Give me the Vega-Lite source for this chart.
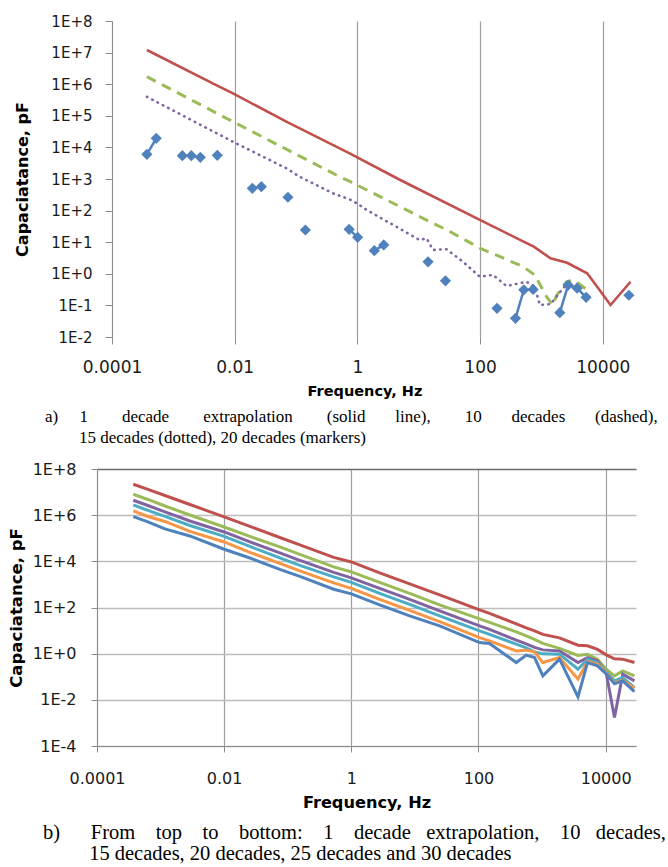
{
  "$schema": "https://vega.github.io/schema/vega-lite/v6.json",
  "background": "white",
  "padding": {"left": 8, "top": 14, "right": 0, "bottom": 0},
  "spacing": 15,
  "config": {
    "view": {"stroke": null},
    "axis": {
      "domainColor": "#8c8c8c",
      "tickColor": "#8c8c8c",
      "labelColor": "#1a1a1a",
      "titleColor": "#000000",
      "labelFont": "DejaVu Sans",
      "titleFont": "DejaVu Sans",
      "titleFontWeight": "bold",
      "labelFlush": false,
      "labelOverlap": false
    }
  },
  "datasets": {
    "panelA": [
      {"s": "r", "f": 3.7e-4, "c": 1.21e7},
      {"s": "r", "f": 5.0e-3, "c": 9.4e5},
      {"s": "r", "f": 9.2e-3, "c": 5.2e5},
      {"s": "r", "f": 0.0695, "c": 6.5e4},
      {"s": "r", "f": 0.748, "c": 6500},
      {"s": "r", "f": 5.0, "c": 930},
      {"s": "r", "f": 101, "c": 50},
      {"s": "r", "f": 456, "c": 11.7},
      {"s": "r", "f": 751, "c": 7.2},
      {"s": "r", "f": 1407, "c": 3.1},
      {"s": "r", "f": 2625, "c": 2.24},
      {"s": "r", "f": 5570, "c": 1.04},
      {"s": "r", "f": 8110, "c": 0.39},
      {"s": "r", "f": 13400, "c": 0.103},
      {"s": "r", "f": 28400, "c": 0.56},
      {"s": "g", "f": 3.7e-4, "c": 1.73e6},
      {"s": "g", "f": 9.4e-3, "c": 6.5e4},
      {"s": "g", "f": 0.514, "c": 1180},
      {"s": "g", "f": 0.77, "c": 822},
      {"s": "g", "f": 17.1, "c": 39.6},
      {"s": "g", "f": 29, "c": 24.3},
      {"s": "g", "f": 101, "c": 6.4},
      {"s": "g", "f": 185, "c": 3.9},
      {"s": "g", "f": 503, "c": 1.68},
      {"s": "g", "f": 780, "c": 0.92},
      {"s": "g", "f": 1211, "c": 0.19},
      {"s": "g", "f": 1535, "c": 0.103},
      {"s": "g", "f": 1783, "c": 0.21},
      {"s": "g", "f": 2570, "c": 0.56},
      {"s": "g", "f": 3380, "c": 0.64},
      {"s": "g", "f": 5570, "c": 0.31},
      {"s": "p", "f": 3.7e-4, "c": 4.0e5},
      {"s": "p", "f": 9.4e-3, "c": 1.5e4},
      {"s": "p", "f": 0.0695, "c": 2180},
      {"s": "p", "f": 0.1146, "c": 1180},
      {"s": "p", "f": 0.4, "c": 352},
      {"s": "p", "f": 0.748, "c": 228},
      {"s": "p", "f": 0.98, "c": 170},
      {"s": "p", "f": 1.43, "c": 104},
      {"s": "p", "f": 10.4, "c": 11.7},
      {"s": "p", "f": 13.4, "c": 13.3},
      {"s": "p", "f": 17.1, "c": 5.7},
      {"s": "p", "f": 28.3, "c": 6.0},
      {"s": "p", "f": 52.8, "c": 2.4},
      {"s": "p", "f": 99, "c": 0.81},
      {"s": "p", "f": 163, "c": 0.92},
      {"s": "p", "f": 270, "c": 0.41},
      {"s": "p", "f": 571, "c": 0.56},
      {"s": "p", "f": 780, "c": 0.39},
      {"s": "p", "f": 942, "c": 0.103},
      {"s": "p", "f": 1422, "c": 0.11},
      {"s": "p", "f": 2150, "c": 0.31},
      {"s": "p", "f": 2700, "c": 0.51},
      {"s": "b", "seg": 1, "f": 3.7e-4, "c": 6050},
      {"s": "b", "seg": 1, "f": 5.26e-4, "c": 19400},
      {"s": "b", "seg": 2, "f": 1.40e-3, "c": 5460},
      {"s": "b", "seg": 3, "f": 1.96e-3, "c": 5460},
      {"s": "b", "seg": 4, "f": 2.75e-3, "c": 4860},
      {"s": "b", "seg": 5, "f": 5.2e-3, "c": 5620},
      {"s": "b", "seg": 6, "f": 0.0194, "c": 508},
      {"s": "b", "seg": 7, "f": 0.0272, "c": 570},
      {"s": "b", "seg": 8, "f": 0.0738, "c": 264},
      {"s": "b", "seg": 9, "f": 0.142, "c": 24.3},
      {"s": "b", "seg": 10, "f": 0.734, "c": 25.6},
      {"s": "b", "seg": 10, "f": 1.01, "c": 14.3},
      {"s": "b", "seg": 11, "f": 1.89, "c": 5.4},
      {"s": "b", "seg": 11, "f": 2.69, "c": 8.2},
      {"s": "b", "seg": 12, "f": 14.2, "c": 2.4},
      {"s": "b", "seg": 13, "f": 27.3, "c": 0.6},
      {"s": "b", "seg": 14, "f": 189, "c": 0.081},
      {"s": "b", "seg": 15, "f": 378, "c": 0.039},
      {"s": "b", "seg": 15, "f": 516, "c": 0.31},
      {"s": "b", "seg": 15, "f": 733, "c": 0.32},
      {"s": "b", "seg": 16, "f": 1995, "c": 0.059},
      {"s": "b", "seg": 16, "f": 2730, "c": 0.44},
      {"s": "b", "seg": 16, "f": 3820, "c": 0.35},
      {"s": "b", "seg": 16, "f": 5360, "c": 0.18},
      {"s": "b", "seg": 17, "f": 26700, "c": 0.21}
    ],
    "gridA": [
      {"c": 0.01}, {"c": 0.1}, {"c": 1}, {"c": 10}, {"c": 100}, {"c": 1000},
      {"c": 10000}, {"c": 100000}, {"c": 1000000}, {"c": 10000000}, {"c": 100000000}
    ],
    "panelB": [
      {"s": "1 decade", "f": 3.72e-4, "c": 2.18e7},
      {"s": "1 decade", "f": 6.32e-4, "c": 1.30e7},
      {"s": "1 decade", "f": 1.17e-3, "c": 7.13e6},
      {"s": "1 decade", "f": 2.89e-3, "c": 2.90e6},
      {"s": "1 decade", "f": 0.01, "c": 8.36e5},
      {"s": "1 decade", "f": 0.0254, "c": 3.24e5},
      {"s": "1 decade", "f": 0.075, "c": 1.08e5},
      {"s": "1 decade", "f": 0.155, "c": 5.13e4},
      {"s": "1 decade", "f": 0.528, "c": 1.48e4},
      {"s": "1 decade", "f": 1.0, "c": 9420},
      {"s": "1 decade", "f": 2.79, "c": 3150},
      {"s": "1 decade", "f": 8.27, "c": 1050},
      {"s": "1 decade", "f": 24.5, "c": 351},
      {"s": "1 decade", "f": 104, "c": 78.7},
      {"s": "1 decade", "f": 149, "c": 55.6},
      {"s": "1 decade", "f": 393, "c": 19.5},
      {"s": "1 decade", "f": 564, "c": 13.1},
      {"s": "1 decade", "f": 761, "c": 9.7},
      {"s": "1 decade", "f": 1028, "c": 6.84},
      {"s": "1 decade", "f": 1880, "c": 4.83},
      {"s": "1 decade", "f": 3670, "c": 2.33},
      {"s": "1 decade", "f": 5180, "c": 2.18},
      {"s": "1 decade", "f": 7430, "c": 1.53},
      {"s": "1 decade", "f": 10190, "c": 0.887},
      {"s": "1 decade", "f": 13750, "c": 0.596},
      {"s": "1 decade", "f": 18570, "c": 0.578},
      {"s": "1 decade", "f": 28330, "c": 0.412},
      {"s": "10 decades", "f": 3.72e-4, "c": 8.03e6},
      {"s": "10 decades", "f": 6.32e-4, "c": 4.79e6},
      {"s": "10 decades", "f": 1.17e-3, "c": 2.50e6},
      {"s": "10 decades", "f": 2.89e-3, "c": 1.02e6},
      {"s": "10 decades", "f": 0.01, "c": 3.08e5},
      {"s": "10 decades", "f": 0.0254, "c": 1.20e5},
      {"s": "10 decades", "f": 0.075, "c": 4.20e4},
      {"s": "10 decades", "f": 0.155, "c": 1.99e4},
      {"s": "10 decades", "f": 0.528, "c": 5720},
      {"s": "10 decades", "f": 1.0, "c": 3480},
      {"s": "10 decades", "f": 2.79, "c": 1220},
      {"s": "10 decades", "f": 8.27, "c": 407},
      {"s": "10 decades", "f": 24.5, "c": 130},
      {"s": "10 decades", "f": 104, "c": 32.1},
      {"s": "10 decades", "f": 149, "c": 22.6},
      {"s": "10 decades", "f": 393, "c": 8.79},
      {"s": "10 decades", "f": 564, "c": 5.90},
      {"s": "10 decades", "f": 761, "c": 4.16},
      {"s": "10 decades", "f": 1028, "c": 2.79},
      {"s": "10 decades", "f": 1880, "c": 1.69},
      {"s": "10 decades", "f": 3670, "c": 0.844},
      {"s": "10 decades", "f": 5180, "c": 0.95},
      {"s": "10 decades", "f": 7430, "c": 0.578},
      {"s": "10 decades", "f": 10190, "c": 0.213},
      {"s": "10 decades", "f": 13750, "c": 0.109},
      {"s": "10 decades", "f": 18570, "c": 0.180},
      {"s": "10 decades", "f": 28330, "c": 0.109},
      {"s": "15 decades", "f": 3.72e-4, "c": 4.42e6},
      {"s": "15 decades", "f": 6.32e-4, "c": 2.63e6},
      {"s": "15 decades", "f": 1.17e-3, "c": 1.38e6},
      {"s": "15 decades", "f": 2.89e-3, "c": 5.61e5},
      {"s": "15 decades", "f": 0.01, "c": 1.87e5},
      {"s": "15 decades", "f": 0.0254, "c": 6.92e4},
      {"s": "15 decades", "f": 0.075, "c": 2.31e4},
      {"s": "15 decades", "f": 0.155, "c": 1.09e4},
      {"s": "15 decades", "f": 0.528, "c": 3300},
      {"s": "15 decades", "f": 1.0, "c": 1910},
      {"s": "15 decades", "f": 2.79, "c": 671},
      {"s": "15 decades", "f": 8.27, "c": 224},
      {"s": "15 decades", "f": 24.5, "c": 71.3},
      {"s": "15 decades", "f": 104, "c": 16.0},
      {"s": "15 decades", "f": 149, "c": 11.3},
      {"s": "15 decades", "f": 393, "c": 3.84},
      {"s": "15 decades", "f": 564, "c": 2.66},
      {"s": "15 decades", "f": 761, "c": 1.87},
      {"s": "15 decades", "f": 1028, "c": 1.46},
      {"s": "15 decades", "f": 1880, "c": 1.32},
      {"s": "15 decades", "f": 3670, "c": 0.412},
      {"s": "15 decades", "f": 5180, "c": 0.678},
      {"s": "15 decades", "f": 7430, "c": 0.488},
      {"s": "15 decades", "f": 10190, "c": 0.148},
      {"s": "15 decades", "f": 13750, "c": 0.00171},
      {"s": "15 decades", "f": 18570, "c": 0.130},
      {"s": "15 decades", "f": 28330, "c": 0.0665},
      {"s": "20 decades", "f": 3.72e-4, "c": 2.77e6},
      {"s": "20 decades", "f": 6.32e-4, "c": 1.60e6},
      {"s": "20 decades", "f": 1.17e-3, "c": 8.79e5},
      {"s": "20 decades", "f": 2.89e-3, "c": 3.58e5},
      {"s": "20 decades", "f": 0.01, "c": 1.20e5},
      {"s": "20 decades", "f": 0.0254, "c": 4.42e4},
      {"s": "20 decades", "f": 0.075, "c": 1.40e4},
      {"s": "20 decades", "f": 0.155, "c": 6650},
      {"s": "20 decades", "f": 0.528, "c": 2110},
      {"s": "20 decades", "f": 1.0, "c": 1220},
      {"s": "20 decades", "f": 2.79, "c": 407},
      {"s": "20 decades", "f": 8.27, "c": 136},
      {"s": "20 decades", "f": 24.5, "c": 43.3},
      {"s": "20 decades", "f": 104, "c": 9.7},
      {"s": "20 decades", "f": 149, "c": 6.84},
      {"s": "20 decades", "f": 393, "c": 2.58},
      {"s": "20 decades", "f": 564, "c": 1.78},
      {"s": "20 decades", "f": 761, "c": 1.20},
      {"s": "20 decades", "f": 1028, "c": 0.98},
      {"s": "20 decades", "f": 1880, "c": 0.95},
      {"s": "20 decades", "f": 3670, "c": 0.213},
      {"s": "20 decades", "f": 5180, "c": 0.578},
      {"s": "20 decades", "f": 7430, "c": 0.412},
      {"s": "20 decades", "f": 10190, "c": 0.163},
      {"s": "20 decades", "f": 13750, "c": 0.0665},
      {"s": "20 decades", "f": 18570, "c": 0.0923},
      {"s": "20 decades", "f": 28330, "c": 0.034},
      {"s": "25 decades", "f": 3.72e-4, "c": 1.52e6},
      {"s": "25 decades", "f": 6.32e-4, "c": 8.79e5},
      {"s": "25 decades", "f": 1.17e-3, "c": 5.33e5},
      {"s": "25 decades", "f": 2.89e-3, "c": 1.97e5},
      {"s": "25 decades", "f": 0.01, "c": 6.92e4},
      {"s": "25 decades", "f": 0.0254, "c": 2.43e4},
      {"s": "25 decades", "f": 0.075, "c": 8110},
      {"s": "25 decades", "f": 0.155, "c": 3840},
      {"s": "25 decades", "f": 0.528, "c": 1160},
      {"s": "25 decades", "f": 1.0, "c": 671},
      {"s": "25 decades", "f": 2.79, "c": 224},
      {"s": "25 decades", "f": 8.27, "c": 74.8},
      {"s": "25 decades", "f": 24.5, "c": 24.5},
      {"s": "25 decades", "f": 104, "c": 4.98},
      {"s": "25 decades", "f": 149, "c": 3.58},
      {"s": "25 decades", "f": 393, "c": 1.32},
      {"s": "25 decades", "f": 564, "c": 1.42},
      {"s": "25 decades", "f": 761, "c": 1.20},
      {"s": "25 decades", "f": 1028, "c": 0.412},
      {"s": "25 decades", "f": 1880, "c": 0.678},
      {"s": "25 decades", "f": 3670, "c": 0.0787},
      {"s": "25 decades", "f": 5180, "c": 0.455},
      {"s": "25 decades", "f": 7430, "c": 0.351},
      {"s": "25 decades", "f": 10190, "c": 0.148},
      {"s": "25 decades", "f": 13750, "c": 0.0545},
      {"s": "25 decades", "f": 18570, "c": 0.0713},
      {"s": "25 decades", "f": 28330, "c": 0.0321},
      {"s": "30 decades", "f": 3.72e-4, "c": 8.61e5},
      {"s": "30 decades", "f": 6.32e-4, "c": 5.08e5},
      {"s": "30 decades", "f": 1.17e-3, "c": 2.53e5},
      {"s": "30 decades", "f": 2.89e-3, "c": 1.26e5},
      {"s": "30 decades", "f": 0.01, "c": 3.34e4},
      {"s": "30 decades", "f": 0.0254, "c": 1.40e4},
      {"s": "30 decades", "f": 0.075, "c": 4460},
      {"s": "30 decades", "f": 0.155, "c": 2220},
      {"s": "30 decades", "f": 0.528, "c": 619},
      {"s": "30 decades", "f": 1.0, "c": 388},
      {"s": "30 decades", "f": 2.79, "c": 130},
      {"s": "30 decades", "f": 8.27, "c": 43.3},
      {"s": "30 decades", "f": 24.5, "c": 16.0},
      {"s": "30 decades", "f": 104, "c": 3.03},
      {"s": "30 decades", "f": 149, "c": 2.74},
      {"s": "30 decades", "f": 393, "c": 0.412},
      {"s": "30 decades", "f": 564, "c": 0.861},
      {"s": "30 decades", "f": 761, "c": 0.678},
      {"s": "30 decades", "f": 1028, "c": 0.109},
      {"s": "30 decades", "f": 1880, "c": 0.578},
      {"s": "30 decades", "f": 3670, "c": 0.0135},
      {"s": "30 decades", "f": 5180, "c": 0.412},
      {"s": "30 decades", "f": 7430, "c": 0.296},
      {"s": "30 decades", "f": 10190, "c": 0.134},
      {"s": "30 decades", "f": 13750, "c": 0.0493},
      {"s": "30 decades", "f": 18570, "c": 0.0665},
      {"s": "30 decades", "f": 28330, "c": 0.0229}
    ]
  },
  "vconcat": [
    {
      "width": 535,
      "height": 316,
      "data": {"name": "panelA"},
      "title": {
        "text": [
          "a)\u00a0\u00a0\u00a0\u00a0\u00a01\u00a0\u00a0\u00a0\u00a0\u00a0\u00a0\u00a0\u00a0decade\u00a0\u00a0\u00a0\u00a0\u00a0\u00a0\u00a0\u00a0extrapolation\u00a0\u00a0\u00a0\u00a0\u00a0\u00a0\u00a0\u00a0(solid\u00a0\u00a0\u00a0\u00a0\u00a0\u00a0\u00a0line),\u00a0\u00a0\u00a0\u00a0\u00a0\u00a0\u00a0\u00a010\u00a0\u00a0\u00a0\u00a0\u00a0\u00a0\u00a0decades\u00a0\u00a0\u00a0\u00a0\u00a0\u00a0\u00a0(dashed),",
          "\u200b\u00a0\u00a0\u00a0\u00a0\u00a0\u00a0\u00a0\u00a015 decades (dotted), 20 decades (markers)"
        ],
        "orient": "bottom",
        "anchor": "start",
        "frame": "group",
        "align": "left",
        "dx": -52,
        "offset": 11,
        "font": "Liberation Serif",
        "fontSize": 17,
        "fontWeight": "normal",
        "lineHeight": 21.5,
        "color": "#000000"
      },
      "encoding": {
        "x": {
          "field": "f",
          "type": "quantitative",
          "scale": {"type": "log", "domain": [0.0000569, 30000], "nice": false},
          "axis": {
            "values": [0.0001, 0.01, 1, 100, 10000],
            "format": "~g",
            "title": "Frequency, Hz",
            "titleFontSize": 14.5,
            "titlePadding": 9,
            "labelFontSize": 17,
            "labelPadding": 15,
            "tickSize": 7,
            "domain": false,
            "gridColor": "#9e9e9e",
            "gridWidth": 1.2
          }
        },
        "y": {
          "field": "c",
          "type": "quantitative",
          "scale": {"type": "log", "domain": [0.01, 100000000], "nice": false},
          "axis": {
            "values": [0.01, 0.1, 1, 10, 100, 1000, 10000, 100000, 1000000, 10000000, 100000000],
            "labelExpr": "'1E' + (round(log(datum.value) / LN10) >= 0 ? '+' : '') + round(log(datum.value) / LN10)",
            "title": "Capaciatance, pF",
            "titleFontSize": 16,
            "titlePadding": 20,
            "labelFontSize": 15,
            "labelPadding": 13,
            "tickSize": 7,
            "offset": -15,
            "grid": false
          }
        }
      },
      "layer": [
        {
          "data": {"name": "gridA"},
          "mark": {"type": "rule", "strokeWidth": 1.4},
          "encoding": {
            "x": {"datum": 0.0001},
            "x2": {"datum": 30000},
            "color": {"condition": {"test": "datum.c >= 100000000", "value": "#5d5d70"}, "value": "#bdbdbd"}
          }
        },
        {
          "transform": [{"filter": "datum.s === 'r'"}],
          "mark": {"type": "line", "color": "#C0504D", "strokeWidth": 2.6}
        },
        {
          "transform": [{"filter": "datum.s === 'g'"}],
          "mark": {"type": "line", "color": "#9BBB59", "strokeWidth": 3, "strokeDash": [10, 7]}
        },
        {
          "transform": [{"filter": "datum.s === 'p'"}],
          "mark": {"type": "line", "color": "#8064A2", "strokeWidth": 2.6, "strokeDash": [0.5, 5.5], "strokeCap": "round"}
        },
        {
          "transform": [{"filter": "datum.s === 'b'"}],
          "mark": {"type": "line", "color": "#4F81BD", "strokeWidth": 2.5},
          "encoding": {"detail": {"field": "seg", "type": "nominal"}}
        },
        {
          "transform": [{"filter": "datum.s === 'b'"}],
          "mark": {"type": "point", "shape": "diamond", "filled": true, "size": 125, "color": "#4F81BD", "opacity": 1}
        }
      ]
    },
    {
      "width": 539,
      "height": 277,
      "data": {"name": "panelB"},
      "title": {
        "text": [
          "b)\u00a0\u00a0\u00a0\u00a0\u00a0\u00a0From\u00a0\u00a0\u00a0\u00a0top\u00a0\u00a0\u00a0\u00a0to\u00a0\u00a0\u00a0\u00a0bottom:\u00a0\u00a0\u00a0\u00a01\u00a0\u00a0\u00a0\u00a0decade\u00a0\u00a0\u00a0extrapolation,\u00a0\u00a0\u00a0\u00a010\u00a0\u00a0\u00a0decades,",
          "\u200b\u00a0\u00a0\u00a0\u00a0\u00a0\u00a0\u00a0\u00a0\u00a015 decades, 20 decades, 25 decades and 30 decades"
        ],
        "orient": "bottom",
        "anchor": "start",
        "frame": "group",
        "align": "left",
        "dx": -54,
        "offset": 13,
        "font": "Liberation Serif",
        "fontSize": 20.5,
        "fontWeight": "normal",
        "lineHeight": 21,
        "color": "#000000"
      },
      "encoding": {
        "x": {
          "field": "f",
          "type": "quantitative",
          "scale": {"type": "log", "domain": [0.0001, 30000], "nice": false},
          "axis": {
            "values": [0.0001, 0.01, 1, 100, 10000],
            "format": "~g",
            "title": "Frequency, Hz",
            "titleFontSize": 16.2,
            "titlePadding": 8,
            "labelFontSize": 16,
            "labelPadding": 18,
            "tickSize": 6,
            "gridColor": "#9e9e9e",
            "gridWidth": 1.2
          }
        },
        "y": {
          "field": "c",
          "type": "quantitative",
          "scale": {"type": "log", "domain": [0.0001, 100000000], "nice": false},
          "axis": {
            "values": [0.0001, 0.01, 1, 100, 10000, 1000000, 100000000],
            "labelExpr": "'1E' + (round(log(datum.value) / LN10) >= 0 ? '+' : '') + round(log(datum.value) / LN10)",
            "title": "Capaciatance, pF",
            "titleFontSize": 16.5,
            "titlePadding": 7.5,
            "labelFontSize": 16,
            "labelPadding": 15,
            "tickSize": 6,
            "gridColor": {"condition": {"test": "datum.value >= 100000000", "value": "#6a6a6a"}, "value": "#bdbdbd"},
            "gridWidth": 1.4
          }
        }
      },
      "layer": [
        {
          "mark": {"type": "line", "strokeWidth": 3},
          "encoding": {
            "color": {
              "field": "s",
              "type": "nominal",
              "scale": {
                "domain": ["1 decade", "10 decades", "15 decades", "20 decades", "25 decades", "30 decades"],
                "range": ["#C0504D", "#9BBB59", "#8064A2", "#4BACC6", "#F79646", "#4F81BD"]
              },
              "legend": null
            }
          }
        }
      ]
    }
  ]
}
